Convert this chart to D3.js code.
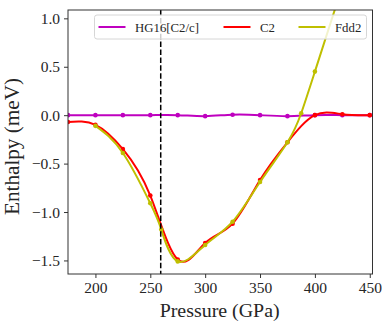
<!DOCTYPE html>
<html><head><meta charset="utf-8">
<script src="https://cdn.jsdelivr.net/npm/d3@7"></script>
<style>body{margin:0;background:#fff}svg{display:block}text{font-family:"Liberation Serif",serif;fill:#262626}</style>
</head><body><svg id="c" width="382" height="326"></svg>
<script>
const hgPressure = [175,200,225,250,275,300,325,350,375,400,425,450];
const hg16 = [0,0,0,0,0,-0.01,0.005,0,-0.01,0,0,0];
const c2Pressure = [175,200,225,250,275,300,325,350,375,400,425,450];
const c2 = [-0.07,-0.10,-0.35,-0.83,-1.49,-1.32,-1.12,-0.67,-0.28,0.0,0.01,0.0];
const fddPressure = [200,225,250,260,275,300,325,350,375,387.5,400,425];
const fdd2 = [-0.11,-0.39,-0.91,-1.18,-1.51,-1.34,-1.10,-0.69,-0.28,0.02,0.45,1.33];
const xTicks = [200,250,300,350,400,450];
const yTicks = [-1.5,-1.0,-0.5,0.0,0.5,1.0];
const seriesNames = ["HG16[C2/c]","C2","Fdd2"];
const seriesColors = ["#bf00bf","#ff0000","#bfbf00"];
const transitionP = 259.5;

const L=68, R=372.5, T=10, B=274;
const svg = d3.select("#c");
const x = d3.scaleLinear().domain([175,452.5]).range([L,R]);
const y = d3.scaleLinear().domain([-1.64,1.086]).range([B,T]);

svg.append("clipPath").attr("id","clip").append("rect").attr("x",L).attr("y",T).attr("width",R-L).attr("height",B-T);
const g = svg.append("g").attr("clip-path","url(#clip)");

const series = [
  {px:hgPressure, v:hg16},
  {px:c2Pressure, v:c2},
  {px:fddPressure, v:fdd2}
];
const line = d3.line().x(d=>x(d[0])).y(d=>y(d[1])).curve(d3.curveNatural);
series.forEach((s,i)=>{
  const pts = s.px.map((p,j)=>[p,s.v[j]]);
  g.append("path").attr("d",line(pts)).attr("fill","none").attr("stroke",seriesColors[i]).attr("stroke-width",2);
  g.selectAll(null).data(pts).enter().append("circle")
    .attr("cx",d=>x(d[0])).attr("cy",d=>y(d[1])).attr("r",2.3).attr("fill",seriesColors[i]);
});

// dashed transition line
svg.append("line").attr("x1",x(transitionP)).attr("x2",x(transitionP)).attr("y1",T).attr("y2",B)
  .attr("stroke","#000").attr("stroke-width",1.5).attr("stroke-dasharray","5.5,2.4");

// axes
const xa = svg.append("g").attr("transform",`translate(0,${B})`)
  .call(d3.axisBottom(x).tickValues(xTicks).tickSize(4).tickPadding(5).tickFormat(d3.format("d")));
const ya = svg.append("g").attr("transform",`translate(${L},0)`)
  .call(d3.axisLeft(y).tickValues(yTicks).tickSize(4).tickPadding(4).tickFormat(d=>d3.format(".1f")(d).replace("-","\u2212")));
[xa,ya].forEach(a=>{a.select(".domain").remove();a.selectAll("line").attr("stroke","#333").attr("stroke-width",1);
  a.selectAll("text").attr("font-family","Liberation Serif").attr("font-size",15.5).attr("fill","#262626");});
xa.selectAll("text").attr("dy",null).attr("y",19.3);
ya.selectAll("text").attr("dy","0.33em");

svg.append("rect").attr("x",L).attr("y",T).attr("width",R-L).attr("height",B-T)
  .attr("fill","none").attr("stroke","#333").attr("stroke-width",1);

// labels
svg.append("text").attr("x",(159.3+280)/2).attr("y",316.7).attr("text-anchor","middle")
  .attr("font-size",19.5).attr("textLength",120).attr("lengthAdjust","spacingAndGlyphs").text("Pressure (GPa)");
svg.append("text").attr("transform","translate(18.5,146.5) rotate(-90)").attr("text-anchor","middle")
  .attr("font-size",20).attr("textLength",137).attr("lengthAdjust","spacingAndGlyphs").text("Enthalpy (meV)");

// legend
const lg = svg.append("g");
lg.append("rect").attr("x",94.5).attr("y",15).attr("width",272).attr("height",24).attr("rx",2.5)
  .attr("fill","rgba(255,255,255,0.8)").attr("stroke","#d6d6d6").attr("stroke-width",1);
const lx = [98.5,223.5,298.5];
seriesNames.forEach((n,i)=>{
  lg.append("line").attr("x1",lx[i]).attr("x2",lx[i]+27).attr("y1",27).attr("y2",27)
    .attr("stroke",seriesColors[i]).attr("stroke-width",2);
  lg.append("text").attr("x",lx[i]+36.5).attr("y",31.5).attr("font-size",12.8).text(n);
});
</script></body></html>
